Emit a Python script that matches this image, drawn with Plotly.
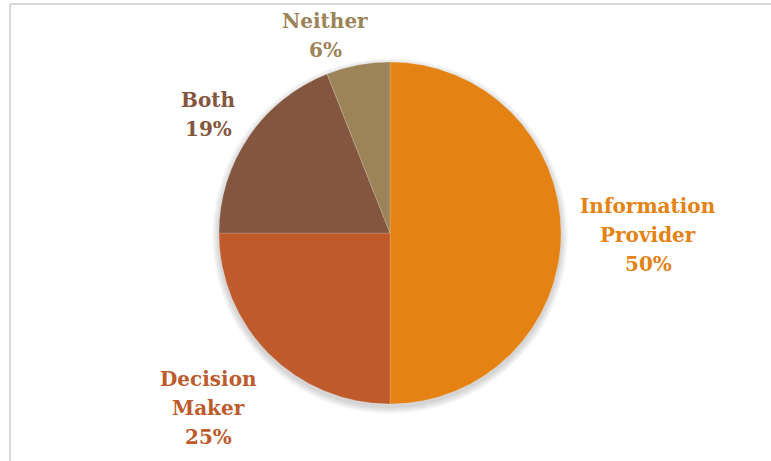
import plotly.graph_objects as go

# Role distribution
labels = ["Information Provider", "Decision Maker", "Both", "Neither"]
values = [50, 25, 19, 6]
colors = ["#E48213", "#BE5A2B", "#85563F", "#9C8358"]

# label text lines (name split for wrapping) and where each block sits (px, centre of first line)
label_lines = [["Information", "Provider"], ["Decision", "Maker"], ["Both"], ["Neither"]]
label_pos = [(648, 206), (208, 379), (208, 100), (325, 21)]

W, H = 771, 461
cx, cy, r = 390, 233, 171
line_step = 29

fig = go.Figure()

fig.add_trace(go.Pie(
    labels=labels,
    values=values,
    sort=False,
    direction="clockwise",
    rotation=0,
    textinfo="none",
    hoverinfo="label+percent",
    marker=dict(colors=colors, line=dict(color="rgba(255,255,255,0.35)", width=0.5)),
    domain=dict(x=[(cx - r) / W, (cx + r) / W], y=[1 - (cy + r) / H, 1 - (cy - r) / H]),
    showlegend=False,
))

shapes = []
# soft drop shadow under the pie, slightly offset downwards
for k in range(1, 8):
    rr = r + k
    oy = 3
    shapes.append(dict(
        type="circle", xref="paper", yref="paper", layer="below",
        x0=(cx - rr) / W, x1=(cx + rr) / W,
        y0=1 - (cy + oy + rr) / H, y1=1 - (cy + oy - rr) / H,
        fillcolor="rgba(0,0,0,0.022)", line=dict(width=0),
    ))
# chart-area frame (left and top edges)
shapes.append(dict(type="line", xref="paper", yref="paper", x0=10 / W, x1=1, y0=1 - 4 / H, y1=1 - 4 / H,
                   line=dict(color="#D9D9D9", width=2)))
shapes.append(dict(type="line", xref="paper", yref="paper", x0=10 / W, x1=10 / W, y0=0, y1=1 - 4 / H,
                   line=dict(color="#D9D9D9", width=2)))

total = sum(values)
annotations = []
for lines, val, col, (px, py) in zip(label_lines, values, colors, label_pos):
    text_lines = lines + [f"{round(100 * val / total)}%"]
    for i, t in enumerate(text_lines):
        annotations.append(dict(
            x=px / W, y=1 - (py + i * line_step) / H, xref="paper", yref="paper",
            text=t, showarrow=False, xanchor="center", yanchor="middle",
            font=dict(family="DejaVu Serif", size=20, color=col, weight="bold"),
        ))

fig.update_layout(
    width=W, height=H,
    margin=dict(l=0, r=0, t=0, b=0),
    paper_bgcolor="white",
    plot_bgcolor="white",
    shapes=shapes,
    annotations=annotations,
)

fig.write_html("out.html")
